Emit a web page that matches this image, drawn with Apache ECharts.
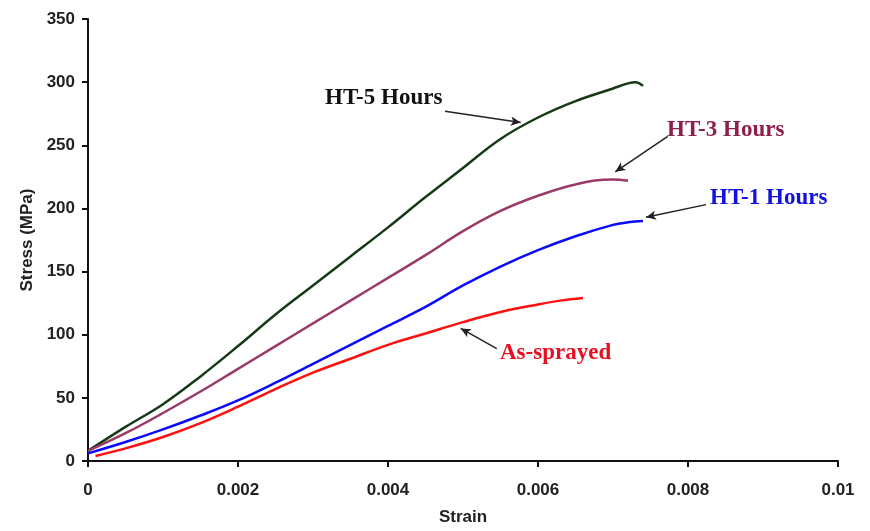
<!DOCTYPE html>
<html>
<head>
<meta charset="utf-8">
<script src="https://cdn.jsdelivr.net/npm/echarts@6/dist/echarts.min.js"></script>
<style>
  html, body { margin: 0; padding: 0; background: #fff; }
  #stressChart { width: 870px; height: 531px; }
</style>
</head>
<body>
<div id="stressChart"></div>
<script>
// strain / stress (MPa) points
const ht5 = [[0, 8], [0.0005, 27], [0.001, 45], [0.0015, 67], [0.002, 91], [0.0025, 116], [0.003, 139],
  [0.0035, 162], [0.004, 185], [0.0045, 209], [0.005, 232], [0.0055, 255], [0.006, 272], [0.0065, 285],
  [0.007, 295], [0.0072, 299], [0.0073, 300], [0.0074, 297]];
const ht3 = [[0, 8], [0.0005, 22], [0.001, 38], [0.0015, 55], [0.002, 73], [0.0025, 91], [0.003, 109],
  [0.0035, 127], [0.004, 145], [0.0045, 163], [0.005, 182], [0.0055, 198], [0.006, 210], [0.0065, 219],
  [0.007, 223], [0.0072, 222]];
const ht1 = [[0, 6], [0.0005, 15], [0.001, 25], [0.0015, 36], [0.002, 48], [0.0025, 62], [0.003, 77],
  [0.0035, 92], [0.004, 107], [0.0045, 122], [0.005, 139], [0.0055, 154], [0.006, 167], [0.0065, 178],
  [0.007, 187], [0.0072, 189], [0.0074, 190]];
const asSprayed = [[0.0001, 4], [0.0005, 10], [0.001, 19], [0.0015, 30], [0.002, 43], [0.0025, 57],
  [0.003, 70], [0.0035, 81], [0.004, 92], [0.0045, 101], [0.005, 110], [0.0055, 118], [0.006, 124],
  [0.0063, 127], [0.0066, 129]];

const seriesNames = ["HT-5 Hours", "HT-3 Hours", "HT-1 Hours", "As-sprayed"];
const lineColors = ["#163a16", "#9a3a6a", "#0a0aff", "#ff1010"];
const textColors = ["#111111", "#8c1f4c", "#1010e0", "#e81020"];
// arrow [from, to] in data coords
const arrows = [
  [[0.00476, 277], [0.00577, 268]],
  [[0.00773, 257], [0.00703, 229]],
  [[0.00824, 203], [0.00744, 193]],
  [[0.00545, 89], [0.00497, 105]]
];
// label anchor (left, top) in px
const labelPos = [[325, 87], [667, 119], [710, 187], [500, 342]];

const chart = echarts.init(document.getElementById("stressChart"));

function mkSeries(i, data) {
  return {
    name: seriesNames[i],
    type: "line",
    data: data,
    showSymbol: false,
    smooth: 0.4,
    lineStyle: { color: lineColors[i], width: 2.5 },
    itemStyle: { color: lineColors[i] },
    markLine: {
      silent: true,
      symbol: ["none", "arrow"],
      symbolSize: [7, 10],
      label: { show: false },
      lineStyle: { color: "#222", width: 1.5, type: "solid" },
      data: [[{ coord: arrows[i][0] }, { coord: arrows[i][1] }]]
    }
  };
}

const axisFont = { fontFamily: "Liberation Sans", fontWeight: "bold", fontSize: 17, color: "#222" };

chart.setOption({
  animation: false,
  grid: { left: 88, right: 32, top: 19, bottom: 68 },
  xAxis: {
    type: "value",
    min: 0,
    max: 0.01,
    interval: 0.002,
    name: "Strain",
    nameLocation: "middle",
    nameGap: 48,
    nameTextStyle: axisFont,
    axisLine: { lineStyle: { color: "#111", width: 2 } },
    axisTick: { show: true, length: 6, lineStyle: { color: "#111", width: 2 } },
    axisLabel: Object.assign({
      margin: 21,
      formatter: v => (v === 0 ? "0" : String(+v.toFixed(3)))
    }, axisFont),
    splitLine: { show: false }
  },
  yAxis: {
    type: "value",
    min: 0,
    max: 350,
    interval: 50,
    name: "Stress (MPa)",
    nameLocation: "middle",
    nameGap: 51,
    nameTextStyle: axisFont,
    axisLine: { show: true, lineStyle: { color: "#111", width: 2 } },
    axisTick: { show: true, length: 6, lineStyle: { color: "#111", width: 2 } },
    axisLabel: Object.assign({ margin: 13 }, axisFont),
    splitLine: { show: false }
  },
  graphic: seriesNames.map((n, i) => ({
    type: "text",
    left: labelPos[i][0],
    top: labelPos[i][1],
    style: {
      text: n,
      fill: textColors[i],
      font: "bold 23px 'Liberation Serif'"
    }
  })),
  series: [
    mkSeries(0, ht5),
    mkSeries(1, ht3),
    mkSeries(2, ht1),
    mkSeries(3, asSprayed)
  ]
});
</script>
</body>
</html>
